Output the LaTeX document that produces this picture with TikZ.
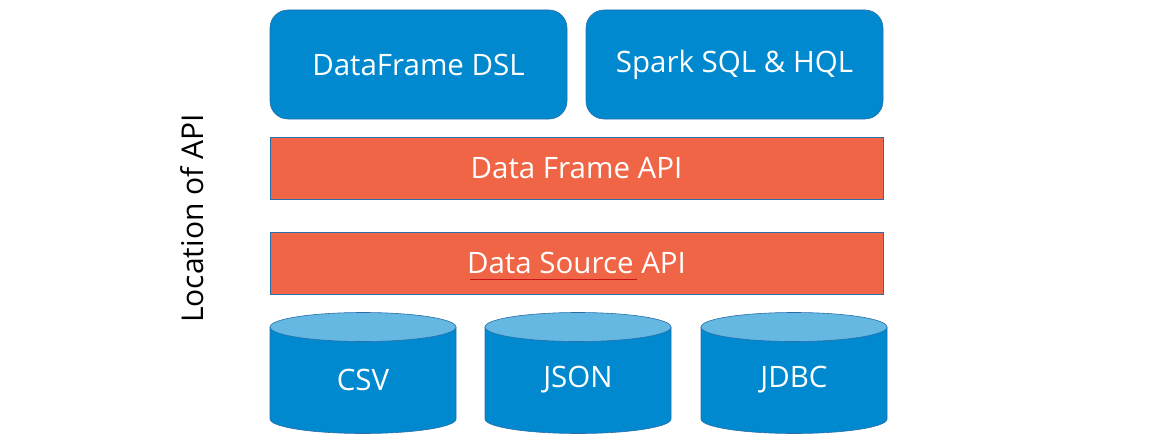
\documentclass[tikz,border=0pt]{standalone}
\usepackage{fontspec}
\setmainfont{Open Sans}
\usetikzlibrary{shapes.geometric}
\definecolor{apiblue}{RGB}{0,137,206}
\definecolor{apiedge}{RGB}{40,110,170}
\definecolor{apitop}{RGB}{100,184,226}
\definecolor{apiorange}{RGB}{239,101,69}
\definecolor{squiggle}{RGB}{200,20,20}
\tikzset{
  px/.style={x=1pt,y=-1pt},
  bigtext/.style={font=\fontsize{29.5}{34}\selectfont},
  langbox/.style={draw=apiedge,line width=0.6pt,fill=apiblue,rounded corners=18pt,
    minimum width=297pt,minimum height=109pt,inner sep=0pt,
    text=white,bigtext},
  layerbox/.style={draw=apiedge,line width=0.8pt,fill=apiorange,
    minimum width=613pt,minimum height=62pt,inner sep=0pt,
    text=white,bigtext},
  storelabel/.style={text=white,bigtext},
  storebody/.style={fill=apiblue},
  storeedge/.style={draw=apiedge,line width=0.6pt},
  storetop/.style={draw=apiedge,line width=0.6pt,fill=apitop},
  sidelabel/.style={rotate=90,text=black,font=\fontsize{30}{34}\selectfont}
}
\newcommand{\storecyl}[3]{%
  % #1 = left x, #2 = name, #3 = label; width 186, top centre y 327, bottom centre y 419
  \fill[storebody] (#1,327) -- (#1,419) arc[start angle=180,end angle=360,x radius=93pt,y radius=14.5pt]
     -- (#1+186,327) -- cycle;
  \draw[storeedge] (#1,327) -- (#1,419) arc[start angle=180,end angle=360,x radius=93pt,y radius=14.5pt] -- (#1+186,327);
  \draw[storetop] (#1+93,327) ellipse[x radius=93pt,y radius=14.5pt];
  \node[storelabel] (#2) at (#1+93,380) {#3};
}
\begin{document}
\begin{tikzpicture}[px]
  \useasboundingbox (0,0) rectangle (1157,444);
  \node[langbox] (dsl) at (418.5,64.5) {DataFrame DSL};
  \node[langbox] (sql) at (734.5,64.5) {Spark SQL \& HQL};
  \node[layerbox] (dfapi) at (576.5,168.5) {Data Frame API};
  \node[layerbox] (dsapi) at (576.5,263) {Data Source API};
  \coordinate (ulA) at (470,279.5);
  \coordinate (ulB) at (637,279.5);
  \draw[squiggle,line width=0.6pt] (ulA) -- (ulB);
  \storecyl{270}{csv}{CSV}
  \storecyl{485}{json}{JSON}
  \storecyl{701}{jdbc}{JDBC}
  \node[sidelabel] (loc) at (192,218.5) {Location of API};
\end{tikzpicture}
\end{document}
